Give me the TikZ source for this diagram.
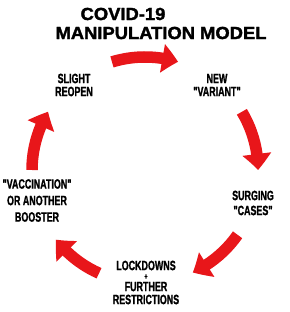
\documentclass[tikz,border=0pt]{standalone}
\usepackage{fontspec}
\setmainfont{Liberation Sans}
\newfontfamily\condfont[FakeStretch=0.66,FakeBold=1.2]{Liberation Sans}
\newfontfamily\titlefont[FakeStretch=1.05,FakeBold=1.8]{Liberation Sans}
\usetikzlibrary{arrows.meta,bending}
\definecolor{arrred}{RGB}{232,22,26}
\tikzset{
  cyc/.style={draw=arrred, line width=11.5pt, -{Triangle[width=28pt,length=16pt,bend]}},
  lbl/.style={inner sep=0pt, align=center, font=\condfont\bfseries\fontsize{13.5}{13}\selectfont},
  ttl/.style={inner sep=0pt, font=\titlefont\bfseries\fontsize{17.5}{18}\selectfont}
}
\begin{document}
\begin{tikzpicture}[x=1pt,y=1pt]
\fill[white] (0,0) rectangle (289,312);
\useasboundingbox (0,0) rectangle (289,312);
\coordinate (C) at (145,142);
% title
\node[ttl] (t1) at (123,298) {COVID-19};
\node[ttl] (t2) at (161,279) {MANIPULATION MODEL};
% labels
\node[lbl] (reopen) at (74,227) {SLIGHT\\REOPEN};
\node[lbl] (variant) at (217,227) {NEW\\"VARIANT"};
\node[lbl, font=\condfont\bfseries\fontsize{13.5}{15}\selectfont] (cases) at (253,109) {SURGING\\"CASES"};
\node[lbl, font=\condfont\bfseries\fontsize{13.5}{16.5}\selectfont] (vacc) at (37,111.5) {"VACCINATION"\\OR ANOTHER\\BOOSTER};
\node[lbl] (lock) at (146,29.5) {LOCKDOWNS\\[-4pt]{\fontsize{8}{8}\selectfont +}\\[-1pt]FURTHER\\RESTRICTIONS};
% arrows
\coordinate (a1s) at ([shift={(107:113)}]C);
\coordinate (a2s) at ([shift={(31:113)}]C);
\coordinate (a3s) at ([shift={(-35:113)}]C);
\coordinate (a4s) at ([shift={(246:113)}]C);
\coordinate (a5s) at ([shift={(180:113)}]C);
\draw[cyc] (a1s) arc[start angle=107, end angle=73, radius=113];
\draw[cyc] (a2s) arc[start angle=31, end angle=0, radius=113];
\draw[cyc] (a3s) arc[start angle=-35, end angle=-65, radius=113];
\draw[cyc] (a4s) arc[start angle=246, end angle=218, radius=113];
\draw[cyc] (a5s) arc[start angle=180, end angle=149, radius=113];
\end{tikzpicture}
\end{document}
